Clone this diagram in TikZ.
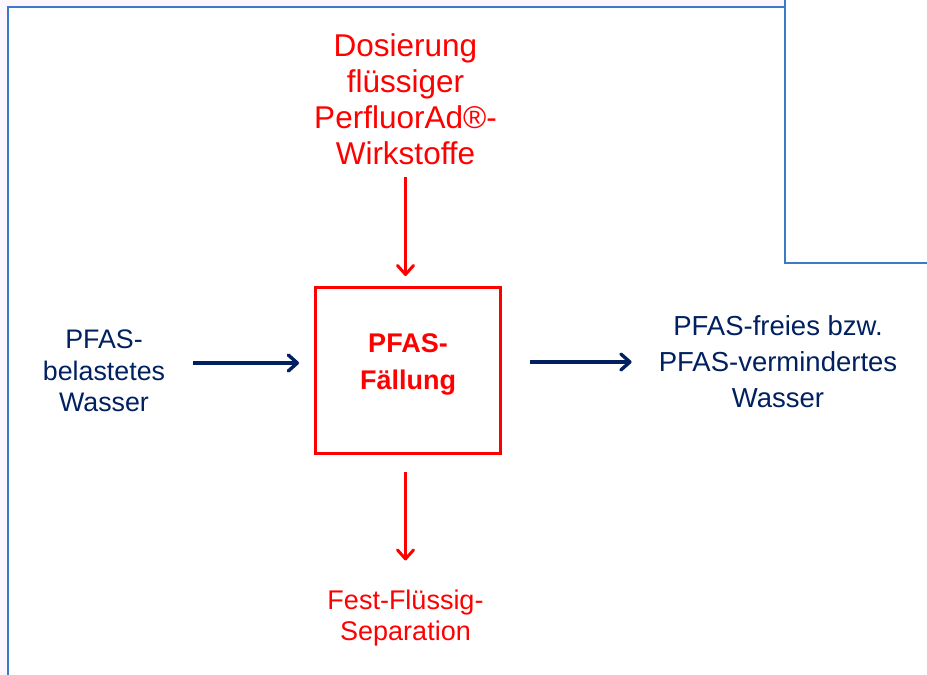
\documentclass[tikz,border=0pt]{standalone}
\usepackage{fontspec}
\setmainfont{Liberation Sans}
\usetikzlibrary{arrows.meta}
\definecolor{bgpink}{RGB}{253,247,253}
\definecolor{frameblue}{RGB}{59,122,196}
\definecolor{navy}{RGB}{0,32,96}
\definecolor{pured}{RGB}{255,0,0}
\tikzset{
  framel/.style={draw=frameblue, line width=2pt},
  txt/.style={inner sep=0pt, align=center},
  redtxt/.style={txt, text=pured},
  bluetxt/.style={txt, text=navy},
  redarr/.style={draw=pured, line width=3pt, -{Straight Barb[length=9pt,width=16pt,line cap=round,line join=round]}},
  bluearr/.style={draw=navy, line width=3.4pt, -{Straight Barb[length=9pt,width=16pt,line cap=round,line join=round]}},
  procbox/.style={draw=pured, line width=3pt, minimum width=185pt, minimum height=166pt, inner sep=0pt, align=center, text=pured}
}
\begin{document}
\begin{tikzpicture}[x=1pt,y=-1pt]
\useasboundingbox (0,0) rectangle (927,675);
\fill[bgpink] (0,0) rectangle (927,675);
\fill[white] (8,6.5) rectangle (927,675);
\draw[framel] (8,675) -- (8,6.5) -- (785,6.5);
\fill[white] (785,0) rectangle (927,263);
\draw[framel] (785,0) -- (785,263) -- (927,263);

\node[procbox, font=\fontsize{27}{37}\selectfont\bfseries] (box) at (408,370.5) {PFAS-\\Fällung\rule[-18pt]{0pt}{18pt}};
\node[redtxt, font=\fontsize{31.5}{36}\selectfont] (dos) at (405.5,99.5) {Dosierung\\flüssiger\\PerfluorAd®-\\Wirkstoffe};
\node[redtxt, font=\fontsize{27}{31.5}\selectfont] (sep) at (405.5,618) {Fest-Flüssig-\\Separation};
\node[bluetxt, font=\fontsize{26.8}{31.5}\selectfont] (lft) at (104,371) {PFAS-\\belastetes\\Wasser};
\node[bluetxt, font=\fontsize{27.5}{36}\selectfont] (rgt) at (778,362) {PFAS-freies bzw.\\PFAS-vermindertes\\Wasser};

\draw[redarr] ([yshift=-11.5pt]dos.south) -- ([yshift=10pt]dos.south |- box.north);
\draw[redarr] ([yshift=-17pt]sep.north |- box.south) -- ([yshift=29pt]sep.north);
\draw[bluearr] ([xshift=28pt,yshift=8pt]lft.east) -- ([xshift=-15pt,yshift=7.5pt]box.west);
\draw[bluearr] ([xshift=28pt,yshift=8.5pt]box.east) -- ([xshift=-27pt]rgt.west);
\end{tikzpicture}
\end{document}
